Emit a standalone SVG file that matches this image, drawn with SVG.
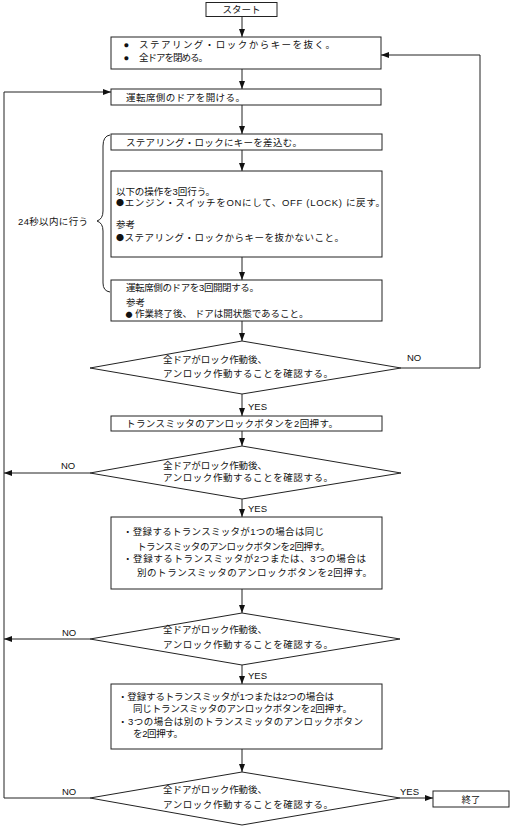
<svg xmlns="http://www.w3.org/2000/svg" width="512" height="829" viewBox="0 0 512 829">
<style>
.b{fill:#fff;stroke:#222;stroke-width:1}
.c{fill:none;stroke:#222;stroke-width:1}
text{font-family:"Liberation Sans","Noto Sans CJK JP",sans-serif;font-size:9.5px;fill:#111}
.m{text-anchor:middle}
.d{font-family:"Noto Sans CJK JP",sans-serif}
</style>
<defs>
<marker id="a" markerWidth="8" markerHeight="6" refX="8" refY="3" orient="auto" markerUnits="userSpaceOnUse">
<path d="M0,0 L8,3 L0,6 z" fill="#111"/>
</marker>
</defs>
<rect width="512" height="829" fill="#fff"/>
<g id="connectors">
<line class="c" x1="242" y1="16.5" x2="242" y2="37" marker-end="url(#a)"/>
<line class="c" x1="242" y1="69" x2="242" y2="89" marker-end="url(#a)"/>
<line class="c" x1="242" y1="105" x2="242" y2="134" marker-end="url(#a)"/>
<line class="c" x1="242" y1="150" x2="242" y2="171" marker-end="url(#a)"/>
<line class="c" x1="242" y1="257" x2="242" y2="280" marker-end="url(#a)"/>
<line class="c" x1="242" y1="321" x2="242" y2="341" marker-end="url(#a)"/>
<polyline class="c" points="401,368 480,368 480,55 381,55" marker-end="url(#a)"/>
<line class="c" x1="242" y1="394" x2="242" y2="416" marker-end="url(#a)"/>
<line class="c" x1="242" y1="431" x2="242" y2="446" marker-end="url(#a)"/>
<line class="c" x1="90" y1="473" x2="4" y2="473" marker-end="url(#a)"/>
<line class="c" x1="242" y1="499" x2="242" y2="517" marker-end="url(#a)"/>
<line class="c" x1="242" y1="589" x2="242" y2="613" marker-end="url(#a)"/>
<line class="c" x1="90" y1="639" x2="4" y2="639" marker-end="url(#a)"/>
<line class="c" x1="242" y1="665" x2="242" y2="684" marker-end="url(#a)"/>
<line class="c" x1="242" y1="749" x2="242" y2="772" marker-end="url(#a)"/>
<polyline class="c" points="90,798 4,798 4,92 111,92" marker-end="url(#a)"/>
<line class="c" x1="400" y1="798" x2="433" y2="798" marker-end="url(#a)"/>
<text x="248" y="409.5">YES</text>
<text x="248" y="511.5">YES</text>
<text x="248" y="678.5">YES</text>
<text x="400" y="794.5">YES</text>
<text x="407" y="360.5">NO</text>
<text x="61" y="468.5">NO</text>
<text x="62" y="635.5">NO</text>
<text x="62" y="794.5">NO</text>
</g>
<g id="start">
<rect class="b" x="206" y="2.5" width="71" height="14"/>
<text class="m" x="241.5" y="13">スタート</text>
</g>
<g id="step1">
<rect class="b" x="111" y="37" width="270" height="32"/>
<text x="123.5" y="47.5" font-size="12">●</text>
<text x="139" y="48" textLength="196" lengthAdjust="spacing">ステアリング・ロックからキーを抜く。</text>
<text x="123.5" y="60.5" font-size="12">●</text>
<text x="139" y="61" textLength="69" lengthAdjust="spacing">全ドアを閉める。</text>
</g>
<g id="step2">
<rect class="b" x="111" y="89" width="270" height="16"/>
<text x="126" y="100.5" textLength="119" lengthAdjust="spacing">運転席側のドアを開ける。</text>
</g>
<g id="step3">
<rect class="b" x="111" y="134" width="271" height="16"/>
<text x="126" y="146" textLength="176" lengthAdjust="spacing">ステアリング・ロックにキーを差込む。</text>
</g>
<g id="step4">
<rect class="b" x="111" y="171" width="271" height="86"/>
<text x="116" y="195" textLength="99" lengthAdjust="spacing">以下の操作を3回行う。</text>
<text x="116" y="206" textLength="269" lengthAdjust="spacing"><tspan class="d" font-size="8">●</tspan>エンジン・スイッチをONにして、OFF (LOCK) に戻す。</text>
<text x="116" y="227.5">参考</text>
<text x="116" y="241" textLength="228" lengthAdjust="spacing"><tspan class="d" font-size="8">●</tspan>ステアリング・ロックからキーを抜かないこと。</text>
</g>
<g id="step5">
<rect class="b" x="111" y="280" width="271" height="41"/>
<text x="126" y="290.5" textLength="133" lengthAdjust="spacing">運転席側のドアを3回開閉する。</text>
<text x="126" y="306">参考</text>
<text x="125.5" y="316.5" textLength="183" lengthAdjust="spacing"><tspan class="d" font-size="7">●</tspan> 作業終了後、 ドアは開状態であること。</text>
</g>
<g id="brace">
<path class="c" d="M110,135 Q103,136 103,146 L103,211 Q103,219 97,221 Q103,223 103,231 L103,283 Q103,291 110,292"/>
<text x="18" y="224.5" textLength="70" lengthAdjust="spacing">24秒以内に行う</text>
</g>
<g id="check1">
<polygon class="b" points="242,341 401,368 242,394 90,368"/>
<text x="163" y="362.5" textLength="104" lengthAdjust="spacing">全ドアがロック作動後、</text>
<text x="163" y="376.5" textLength="170" lengthAdjust="spacing">アンロック作動することを確認する。</text>
</g>
<g id="step6">
<rect class="b" x="111" y="416" width="271" height="15"/>
<text x="126" y="426.5" textLength="212" lengthAdjust="spacing">トランスミッタのアンロックボタンを2回押す。</text>
</g>
<g id="check2">
<polygon class="b" points="242,446 401,473 242,499 90,473"/>
<text x="163" y="469" textLength="104" lengthAdjust="spacing">全ドアがロック作動後、</text>
<text x="163" y="480.5" textLength="170" lengthAdjust="spacing">アンロック作動することを確認する。</text>
</g>
<g id="step7">
<rect class="b" x="111" y="517" width="271" height="72"/>
<text x="123" y="534.5" textLength="201" lengthAdjust="spacing">・登録するトランスミッタが1つの場合は同じ</text>
<text x="137" y="549.5" textLength="193" lengthAdjust="spacing">トランスミッタのアンロックボタンを2回押す。</text>
<text x="123" y="561.5" textLength="243" lengthAdjust="spacing">・登録するトランスミッタが2つまたは、3つの場合は</text>
<text x="137" y="575.5" textLength="235" lengthAdjust="spacing">別のトランスミッタのアンロックボタンを2回押す。</text>
</g>
<g id="check3">
<polygon class="b" points="242,613 400,639 242,665 90,639"/>
<text x="163" y="632.5" textLength="104" lengthAdjust="spacing">全ドアがロック作動後、</text>
<text x="163" y="648" textLength="170" lengthAdjust="spacing">アンロック作動することを確認する。</text>
</g>
<g id="step8">
<rect class="b" x="111" y="684" width="271" height="65"/>
<text x="118" y="699.5" textLength="216" lengthAdjust="spacing">・登録するトランスミッタが1つまたは2つの場合は</text>
<text x="133" y="711.5" textLength="219" lengthAdjust="spacing">同じトランスミッタのアンロックボタンを2回押す。</text>
<text x="118" y="724.5" textLength="245" lengthAdjust="spacing">・3つの場合は別のトランスミッタのアンロックボタン</text>
<text x="133" y="736.5" textLength="50" lengthAdjust="spacing">を2回押す。</text>
</g>
<g id="check4">
<polygon class="b" points="242,772 400,798 242,825 90,798"/>
<text x="163" y="792.5" textLength="104" lengthAdjust="spacing">全ドアがロック作動後、</text>
<text x="163" y="807.5" textLength="170" lengthAdjust="spacing">アンロック作動することを確認する。</text>
</g>
<g id="end">
<rect class="b" x="433" y="791" width="76" height="16"/>
<text class="m" x="471" y="802.5">終了</text>
</g>
</svg>
